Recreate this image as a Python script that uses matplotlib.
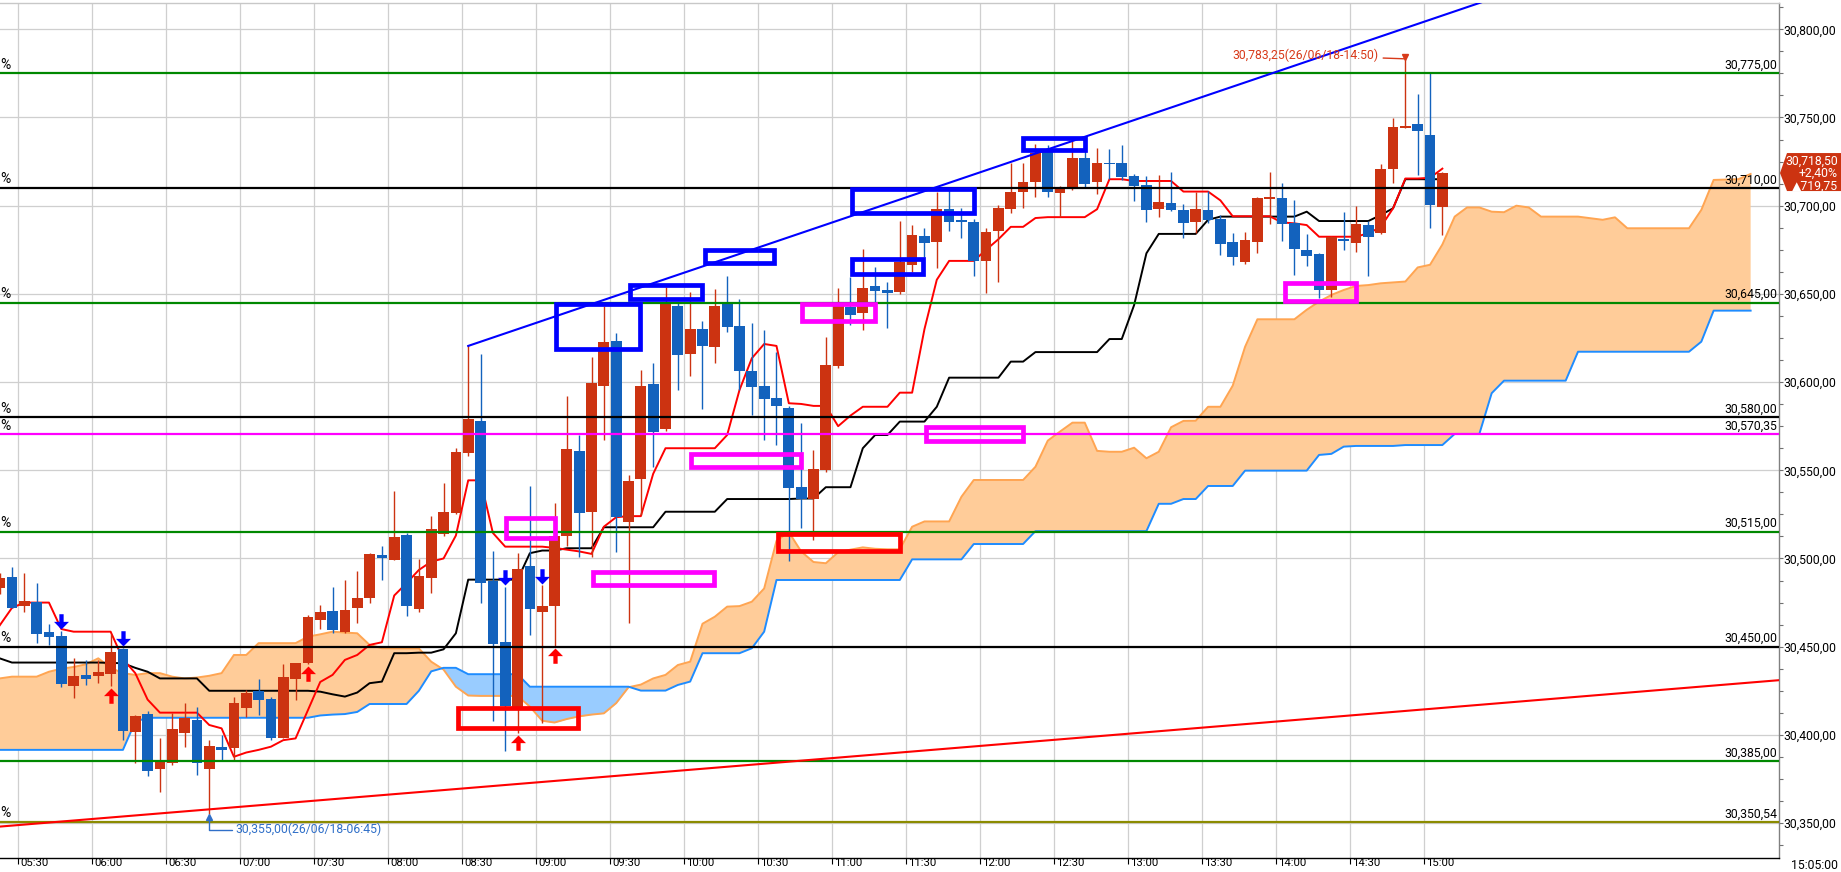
import numpy as np
import matplotlib
matplotlib.use('Agg')
import matplotlib.pyplot as plt
from matplotlib.patches import Rectangle, Polygon
from matplotlib.path import Path
from matplotlib.ticker import FixedLocator, FuncFormatter, MultipleLocator
import matplotlib.transforms as mtransforms

FONT = ['Roboto', 'DejaVu Sans']
plt.rcParams['font.family'] = FONT

# ---------------- data (5-minute candles, index 0 = 05:30) ----------------
first_idx = -2
opens = [30483, 30489.7, 30473.2, 30475.3, 30458.5, 30456.1, 30427.7, 30434, 30433.4, 30434.5,
         30448.7, 30401.8, 30411.8, 30380.7, 30383.9, 30401.2, 30408.4, 30380.7, 30393, 30392.7,
         30415.4, 30424.9, 30420.4, 30398.4, 30431.7, 30440.9, 30465.2, 30470.2, 30458.5, 30472.1,
         30477.8, 30502, 30499.1, 30513.3, 30471.4, 30489.1, 30513.7, 30526, 30560, 30578,
         30487.4, 30452.7, 30414.1, 30495.7, 30469.8, 30473.2, 30512.8, 30560.9, 30526.5, 30598,
         30623.3, 30520.9, 30545.1, 30598.9, 30573.4, 30643.1, 30615.9, 30630.1, 30620.1, 30644.3,
         30631.8, 30606.3, 30597.8, 30591.2, 30585.5, 30540.7, 30533.7, 30550.1, 30609.1, 30642.7,
         30639.3, 30654.5, 30652.2, 30651.2, 30666.4, 30682.8, 30679.6, 30698.1, 30691.5, 30690.9,
         30668.7, 30685.8, 30698.1, 30707.8, 30713.6, 30730.6, 30707.4, 30709.6, 30727.2, 30713.6,
         30724.4, 30724.4, 30716.8, 30711.7, 30698.1, 30701.7, 30697.6, 30690.9, 30697.6, 30692.5,
         30679.4, 30667.9, 30679.2, 30703.6, 30704.5, 30690, 30674.9, 30672.6, 30652.2, 30681,
         30679, 30689.1, 30684.7, 30720.6, 30744.2, 30746.3, 30740.1, 30699.4]
highs = [30492, 30495.3, 30491.6, 30486.3, 30463, 30459.1, 30443.4, 30442.5, 30442.5, 30457.2,
         30449.5, 30411, 30413.7, 30398.1, 30412.2, 30417.9, 30416, 30397.1, 30399.9, 30421.7,
         30425.5, 30431.7, 30421.7, 30440.2, 30441, 30468, 30473.6, 30484, 30487.8, 30492.9,
         30503, 30507.1, 30538.3, 30514.5, 30499.7, 30524.1, 30542.6, 30562.8, 30621, 30615.9,
         30504.2, 30484, 30503, 30541.3, 30484.8, 30531.3, 30592.1, 30570, 30614.1, 30643.3,
         30627.7, 30547.3, 30606.9, 30611, 30654.1, 30644.7, 30650.9, 30634.8, 30652.8, 30660,
         30646.9, 30633.3, 30629.5, 30617.2, 30586.4, 30576.6, 30561.5, 30625.7, 30653.2, 30659.8,
         30675.5, 30665.4, 30656.9, 30691.5, 30689.1, 30687.2, 30707.9, 30708.9, 30698.5, 30692.3,
         30687.2, 30700.4, 30724, 30724, 30735, 30734.4, 30711, 30738.2, 30734.4, 30732.5,
         30732, 30734.4, 30718, 30716.8, 30717.4, 30719.3, 30701, 30707.9, 30708.5, 30694.7,
         30684.4, 30685.3, 30705, 30719.3, 30712.7, 30703.2, 30684, 30673, 30683, 30696.6,
         30700, 30691.5, 30723.6, 30749.5, 30783.25, 30763.3, 30775.1, 30719]
lows = [30480, 30472, 30469.8, 30451.9, 30451, 30427.3, 30421.1, 30428.3, 30429.6, 30427.7,
        30397.1, 30383.9, 30376.7, 30367.8, 30383, 30393.3, 30377, 30355, 30385.8, 30385.2,
        30410, 30411.3, 30397.1, 30398, 30419.8, 30440, 30460, 30457.5, 30458, 30463.3,
        30474.6, 30487.8, 30499, 30467.6, 30469.5, 30480.6, 30513, 30525, 30558.1, 30474.9,
        30408, 30391, 30400.9, 30456.5, 30406.6, 30450.4, 30507.1, 30501, 30501, 30567.2,
        30503.9, 30463.6, 30524.7, 30552, 30572, 30595.5, 30603.5, 30584.7, 30611, 30628.6,
        30595.5, 30581.3, 30567.2, 30564.3, 30498.6, 30517.1, 30510.5, 30549, 30608, 30632.4,
        30629.5, 30645.6, 30630.5, 30650, 30662.6, 30671.1, 30664.5, 30685.8, 30681.5, 30660.1,
        30650.7, 30656.9, 30696, 30698.5, 30704.8, 30705.1, 30693.4, 30709, 30710.8, 30706.6,
        30715, 30714.6, 30702.8, 30690.9, 30693.8, 30697, 30681.5, 30684.4, 30690.4, 30672.1,
        30666.4, 30667, 30673.4, 30689.6, 30680.2, 30660.7, 30665.8, 30647.5, 30648.4, 30674.9,
        30673.9, 30660.1, 30684, 30712.7, 30744, 30717.4, 30687.2, 30683.4]
closes = [30489, 30472.1, 30476, 30457.2, 30455.7, 30428.9, 30433.4, 30431.5, 30435.8, 30447.2,
          30402.4, 30410.9, 30379.7, 30384.5, 30403.3, 30409.7, 30383.9, 30393.7, 30391.4, 30417.9,
          30423.9, 30419.8, 30398.4, 30433, 30440.9, 30467, 30469.7, 30459.5, 30470.8, 30477.6,
          30502.5, 30500.1, 30512, 30473.2, 30490.1, 30516.7, 30526.2, 30560.4, 30579.1, 30486.3,
          30451.5, 30416.6, 30494, 30471.5, 30473.1, 30512.8, 30562.1, 30526, 30599.3, 30622.7,
          30523.7, 30544, 30597.8, 30571.9, 30645.6, 30615.4, 30630.1, 30620.6, 30643.1, 30631.4,
          30606.5, 30597.4, 30590.2, 30586.4, 30540.1, 30533.7, 30550.7, 30609.7, 30643.1, 30638,
          30653.5, 30651.8, 30650.7, 30668.3, 30683.4, 30679, 30698.1, 30690.9, 30690.8, 30668.7,
          30685.3, 30698.5, 30707.8, 30713.3, 30730, 30707.9, 30710.8, 30727.2, 30712.3, 30724,
          30723.6, 30716.1, 30711.2, 30697.6, 30702.3, 30697.6, 30690.4, 30698.1, 30691.9, 30678.3,
          30671.1, 30680.6, 30704.5, 30705.1, 30689.6, 30675.5, 30671.7, 30652.2, 30682.1, 30680.2,
          30689.6, 30682.4, 30720.8, 30744.4, 30744.6, 30742.5, 30700.4, 30718.5]

tenkan = [30462, 30472, 30475, 30475, 30475, 30460, 30458.5, 30458.5, 30458.5, 30458.5,
          30443, 30435, 30420, 30412.6, 30412.6, 30412.6, 30412.6, 30405.6, 30403.7, 30387.6,
          30390, 30391.5, 30393.3, 30397, 30398, 30414, 30430, 30434, 30442.5, 30445.3,
          30451, 30452.5, 30479, 30486, 30493.5, 30498.2, 30500, 30513, 30544.3, 30544.3,
          30514.5, 30506.7, 30506.7, 30506.7, 30506.7, 30506, 30505, 30504, 30502.6, 30518,
          30523.4, 30524, 30524, 30548, 30562.5, 30562.5, 30562.5, 30562.5, 30562.5, 30570,
          30595.5, 30613.5, 30621.6, 30620.5, 30588, 30587.6, 30586.5, 30586.5, 30575, 30581,
          30586, 30586, 30586, 30594, 30594, 30630, 30658, 30668.7, 30668.7, 30668.7,
          30675, 30681, 30688, 30688, 30693, 30693.5, 30693.5, 30693.5, 30693.5, 30698,
          30715, 30715, 30714, 30714, 30714, 30714, 30708, 30708, 30708, 30703,
          30694, 30694, 30694, 30694, 30690.5, 30690, 30689, 30682.4, 30682.4, 30682.4,
          30682.4, 30684.4, 30687.8, 30698.5, 30715.4, 30715.4, 30715.8, 30721]
kijun = [30443.4, 30441, 30441, 30441, 30441, 30441, 30441, 30441, 30441, 30440.8,
         30440.6, 30438, 30435.8, 30432, 30432, 30432, 30432, 30425, 30425, 30425,
         30425, 30425, 30425, 30425, 30425, 30425, 30424.5, 30423, 30421.7, 30424,
         30429.3, 30430.2, 30446.3, 30446.3, 30446.6, 30446.6, 30448.5, 30457.6, 30488, 30488,
         30488, 30488, 30488, 30503, 30504.5, 30504.5, 30505.8, 30505.8, 30505.8, 30517.7,
         30517.7, 30517.7, 30517.7, 30517.7, 30526.5, 30526.5, 30526.5, 30526.5, 30526.5, 30533.7,
         30533.7, 30533.7, 30533.7, 30533.7, 30533.7, 30534, 30534, 30540.4, 30540.4, 30540.4,
         30562.5, 30570, 30570, 30577.6, 30577.6, 30577.6, 30586, 30602.5, 30602.5, 30602.5,
         30602.5, 30602.5, 30611.6, 30611.6, 30617, 30617, 30617, 30617, 30617, 30617,
         30624.4, 30624.4, 30643.6, 30673, 30684, 30684, 30684, 30684, 30692, 30693.8,
         30693.8, 30693.8, 30693.8, 30693.8, 30693.8, 30693.8, 30696.6, 30691.3, 30691.3, 30691.3,
         30691.3, 30691.3, 30694.7, 30698.5, 30715, 30715, 30715, 30715]
# leading spans (index -2 .. 140)
span_a = [30432, 30433, 30433, 30433, 30435.8, 30437.5, 30438.5, 30440, 30443.4, 30438,
          30435, 30434, 30435, 30435, 30433, 30432, 30432.5, 30433.5, 30435, 30445.3,
          30445.3, 30452, 30452, 30452, 30452, 30455.7, 30457, 30458.5, 30458, 30457.6,
          30451, 30449.1, 30449, 30449, 30449, 30441.5, 30437, 30427.3, 30422.3, 30422.1,
          30422.1, 30422.1, 30422.1, 30416, 30408, 30407, 30409, 30410.5, 30411.5, 30412.2,
          30418, 30427, 30428.5, 30432, 30434, 30439.6, 30441.5, 30463, 30467, 30472.7,
          30473, 30475.5, 30483, 30510, 30515, 30504, 30498, 30497.3, 30503.5, 30505,
          30506.3, 30505.5, 30505.2, 30505.2, 30518, 30521, 30521, 30521, 30535, 30544.5,
          30544.5, 30544.5, 30544.5, 30544.5, 30552, 30566.8, 30572, 30577, 30577, 30561,
          30560.5, 30560.5, 30562.8, 30556.8, 30560.5, 30574.4, 30578, 30578.1, 30586, 30586,
          30598, 30620, 30635.6, 30635.6, 30635.6, 30635.6, 30641, 30645.6, 30649.4, 30652.2,
          30654.5, 30655, 30656, 30656.5, 30657, 30665, 30666.5, 30678, 30693.8, 30699,
          30699, 30696.6, 30696.3, 30700, 30699, 30693.8, 30693.8, 30693.8, 30693.8, 30692.9,
          30692, 30693.4, 30687.2, 30687.2, 30687.2, 30687.2, 30687.2, 30687.2, 30697.6, 30714.6,
          30714.8, 30715, 30718]
span_b = [30391.5, 30391.5, 30391.5, 30391.5, 30391.5, 30391.5, 30391.5, 30391.5, 30391.5, 30391.5,
          30391.5, 30407.5, 30409.7, 30409.7, 30409.7, 30409.7, 30409.7, 30409.7, 30409.7, 30409.7,
          30409.7, 30409.7, 30409.7, 30409.7, 30409.7, 30409.7, 30411, 30411.5, 30411.8, 30413,
          30417.5, 30417.5, 30417.5, 30417.5, 30425, 30436, 30438, 30438, 30434.4, 30434.4,
          30434.4, 30434.4, 30434.4, 30427.3, 30427.3, 30427.3, 30427.3, 30427.3, 30427.3, 30427.3,
          30427.3, 30427.3, 30425.1, 30425.1, 30425.1, 30428.3, 30430.2, 30446.3, 30446.3, 30446.3,
          30446.3, 30449.1, 30458.5, 30487.8, 30487.8, 30487.8, 30487.8, 30487.8, 30487.8, 30487.8,
          30487.8, 30487.8, 30487.8, 30487.8, 30499.5, 30499.5, 30499.5, 30499.5, 30499.5, 30508.2,
          30508.2, 30508.2, 30508.2, 30508.2, 30515.5, 30515.5, 30515.5, 30515.5, 30515.5, 30515.5,
          30515.5, 30515.5, 30515.5, 30515.5, 30531, 30531, 30533.7, 30533.7, 30541.1, 30541.1,
          30541.1, 30549.8, 30549.8, 30549.8, 30549.8, 30549.8, 30549.8, 30558.7, 30559.3, 30563.4,
          30563.8, 30563.8, 30563.8, 30563.8, 30564.3, 30564.3, 30564.3, 30564.3, 30570.6, 30570.6,
          30570.6, 30593.7, 30600.8, 30600.8, 30600.8, 30600.8, 30600.8, 30600.8, 30617.2, 30617.2,
          30617.2, 30617.2, 30617.2, 30617.2, 30617.2, 30617.2, 30617.2, 30617.2, 30622.9, 30640.5,
          30640.5, 30640.5, 30640.5]

time_labels = ['05:30', '06:00', '06:30', '07:00', '07:30', '08:00', '08:30', '09:00', '09:30', '10:00',
               '10:30', '11:00', '11:30', '12:00', '12:30', '13:00', '13:30', '14:00', '14:30', '15:00']

level_values = [30775.00, 30710.00, 30645.00, 30580.00, 30570.35, 30515.00, 30450.00, 30385.00, 30350.54]
level_colors = ['#008800', '#000000', '#008800', '#000000', '#FF00FF', '#008800', '#000000', '#008800', '#8B8B00']
level_pct_mark = [True, True, True, True, True, True, True, False, True]

trend_blue_idx = [36, 101.8]
trend_blue_val = [30620.5, 30776.5]
trend_red_idx = [-2, 142.3]
trend_red_val = [30348.0, 30431.0]

# annotation boxes: left idx, right idx, low price, high price
box_left = [43.1, 49.1, 55.2, 67.1, 67.1, 81.0, 39.1, 46.1, 54.1, 63.1, 73.1, 102.2, 35.2, 61.1]
box_right = [49.9, 55.0, 60.8, 72.9, 77.0, 86.0, 43.0, 55.9, 63.0, 69.0, 81.0, 108.0, 44.9, 71.0]
box_low = [30618.5, 30647, 30667.5, 30661, 30696, 30731.5, 30511.5, 30485, 30552, 30634.5, 30566.5, 30646, 30404, 30504]
box_high = [30644.5, 30655, 30675, 30669.5, 30709.5, 30738.5, 30523, 30492.5, 30559.5, 30644.5, 30574.5, 30656, 30415, 30514]
box_color = ['#0000FF'] * 6 + ['#FF00FF'] * 6 + ['#FF0000'] * 2

signal_down_idx = [3, 8, 39, 42]
signal_up_idx = [7, 23, 40, 43]

high_idx, high_val, high_text = 112, 30783.25, '30,783,25(26/06/18-14:50)'
low_idx, low_val, low_text = 15, 30355.00, '30,355,00(26/06/18-06:45)'
last_price, change_pct, change_abs = 30718.50, 2.40, 719.75
clock_text = '15:05:00'

# ---------------- drawing ----------------
W, H = 1841, 872
FS = 8.8
fig = plt.figure(figsize=(W / 100, H / 100), dpi=100)
fig.patch.set_facecolor('white')
ax = fig.add_axes([0, 14 / H, 1779 / W, 855 / H])
ax.set_xlim(-1.97, 142.3)
ax.set_ylim(30330.2, 30814.9)
ax.set_facecolor('white')

idx = np.arange(first_idx, first_idx + len(opens))
cidx = np.arange(first_idx, first_idx + len(span_a))
o = np.array(opens); h = np.array(highs); l = np.array(lows); c = np.array(closes)
sa = np.array(span_a); sb = np.array(span_b)

def fmt(v):
    return f"{v:,.2f}".replace('.', ',')

# grid
tick_pos = [-0.5 + 6 * k for k in range(len(time_labels))]
for tp in tick_pos:
    ax.axvline(tp, color='#CFCFCF', lw=0.9, zorder=0)
for yv in np.arange(30350, 30801, 50):
    ax.axhline(yv, color='#CFCFCF', lw=0.9, zorder=0)

# cloud
ax.fill_between(cidx, sa, sb, where=sa >= sb, interpolate=True, color='#FFCC99', lw=0, zorder=1)
ax.fill_between(cidx, sa, sb, where=sa < sb, interpolate=True, color='#99CCFF', lw=0, zorder=1)
ax.plot(cidx, sa, color='#FFA552', lw=1.4, zorder=2)
ax.plot(cidx, sb, color='#1E8CFF', lw=1.4, zorder=2)

# tenkan / kijun
ax.plot(idx, kijun, color='#000000', lw=1.4, zorder=3)
ax.plot(idx, tenkan, color='#FF0000', lw=1.4, zorder=3)

# candles
up = c >= o
cols = np.where(up, '#CC3311', '#1362BD')
ax.vlines(idx, l, h, colors=cols, lw=1.0, zorder=5)
body_h = np.maximum(np.abs(c - o), 0.8)
ax.bar(idx, body_h, bottom=np.minimum(o, c), width=0.87, color=cols, lw=0, zorder=6)

# horizontal levels
blend = mtransforms.blended_transform_factory(ax.transAxes, ax.transData)
for v, col, pm in zip(level_values, level_colors, level_pct_mark):
    ax.axhline(v, color=col, lw=1.6, zorder=7)
    ax.text(0.9991, v + 1.0, fmt(v), transform=blend, ha='right', va='bottom',
            fontsize=FS, color='black', zorder=11)
    if pm:
        ax.text(0.0, v + 1.0, '%', transform=blend, ha='left', va='bottom',
                fontsize=10, color='black', zorder=11)

# trend lines (extended to the plot edges)
xl = np.array(ax.get_xlim())
bs = (trend_blue_val[1] - trend_blue_val[0]) / (trend_blue_idx[1] - trend_blue_idx[0])
bx = np.array([trend_blue_idx[0], xl[1]])
ax.plot(bx, trend_blue_val[0] + bs * (bx - trend_blue_idx[0]), color='#0000FF', lw=1.5, zorder=7)
rs = (trend_red_val[1] - trend_red_val[0]) / (trend_red_idx[1] - trend_red_idx[0])
ax.plot(xl, trend_red_val[0] + rs * (xl - trend_red_idx[0]), color='#FF0000', lw=1.5, zorder=7)

# boxes
for x0, x1, y0, y1, col in zip(box_left, box_right, box_low, box_high, box_color):
    ax.add_patch(Rectangle((x0, y0), x1 - x0, y1 - y0, fill=False, edgecolor=col,
                           lw=3.4, joinstyle='miter', zorder=8))

# signal arrows (marker tip at the origin)
down_path = Path([(0, 0), (0.49, 0.5), (0.14, 0.5), (0.14, 1), (-0.14, 1), (-0.14, 0.5), (-0.49, 0.5), (0, 0)],
                 [Path.MOVETO] + [Path.LINETO] * 6 + [Path.CLOSEPOLY])
up_path = Path([(0, 0), (0.49, -0.5), (0.14, -0.5), (0.14, -1), (-0.14, -1), (-0.14, -0.5), (-0.49, -0.5), (0, 0)],
               [Path.MOVETO] + [Path.LINETO] * 6 + [Path.CLOSEPOLY])
hd = {i: v for i, v in zip(idx, h)}
ld = {i: v for i, v in zip(idx, l)}
ax.plot(signal_down_idx, [hd[i] + 1.0 for i in signal_down_idx], linestyle='none',
        marker=down_path, markersize=22, color='#0000FF', markeredgewidth=0, zorder=9)
ax.plot(signal_up_idx, [ld[i] - 1.0 for i in signal_up_idx], linestyle='none',
        marker=up_path, markersize=22, color='#FF0000', markeredgewidth=0, zorder=9)

# high / low annotations
ax.annotate(high_text, xy=(high_idx, high_val), xytext=(-19, 2.5), textcoords='offset points',
            ha='right', va='center', fontsize=FS, color='#D83A1A', zorder=10,
            arrowprops=dict(arrowstyle='-', color='#D83A1A', lw=1.0, shrinkA=1, shrinkB=0))
ax.plot([high_idx], [high_val + 0.8], marker='v', markersize=5, color='#D83A1A', zorder=10)
ax.annotate(low_text, xy=(low_idx, low_val - 2.0), xytext=(18.5, -8.5), textcoords='offset points',
            ha='left', va='center', fontsize=FS, color='#2F6FC8', zorder=10,
            arrowprops=dict(arrowstyle='-', color='#2F6FC8', lw=1.0, shrinkA=0, shrinkB=0,
                            connectionstyle='angle,angleA=0,angleB=90,rad=0'))
ax.plot([low_idx], [low_val - 1.5], marker='^', markersize=4.5, color='#2F6FC8', zorder=10)

# axes styling
ax.yaxis.tick_right()
ax.yaxis.set_major_locator(FixedLocator(np.arange(30350, 30801, 50)))
ax.yaxis.set_minor_locator(MultipleLocator(12.5))
ax.yaxis.set_major_formatter(FuncFormatter(lambda v, p: fmt(v)))
ax.tick_params(axis='y', which='major', direction='out', length=3, width=0.8, color='#707070',
               labelsize=FS, pad=0.5)
ax.tick_params(axis='y', which='minor', direction='out', length=3, width=0.8, color='#707070')
ax.set_xticks(tick_pos)
ax.set_xticklabels(time_labels)
ax.tick_params(axis='x', direction='out', length=4, width=0.8, color='#000000', labelsize=8.2, pad=-4.2)
shift = mtransforms.ScaledTranslation(2 / 100, 0, fig.dpi_scale_trans)
for lab in ax.get_xticklabels():
    lab.set_horizontalalignment('left')
    lab.set_transform(lab.get_transform() + shift)
ax.spines['left'].set_visible(False)
ax.spines['right'].set_color('#808080')
ax.spines['top'].set_color('#C8C8C8')
ax.spines['bottom'].set_color('#000000')
for s in ['right', 'top', 'bottom']:
    ax.spines[s].set_linewidth(1.0)

# last-price box on the right axis
fig.canvas.draw()
yp = ax.transData.transform((0, last_price))[1]
box_top, box_bot = yp + 20, yp - 18
x_ax = 1779
poly = Polygon([(x_ax + 1, yp), (x_ax + 8, box_top), (W, box_top), (W, box_bot), (x_ax + 8, box_bot)],
               closed=True, transform=None, facecolor='#CC3311', edgecolor='none', zorder=20)
fig.patches.append(poly)
lines_txt = [fmt(last_price), f"+{change_pct:.2f}%".replace('.', ','), '\u25B2' + fmt(change_abs)]
for k, t in enumerate(lines_txt):
    fig.text((W - 3) / W, (yp + 12 - 12.5 * k) / H, t, ha='right', va='center', color='white',
             fontsize=FS, family=FONT, zorder=21)

fig.text((W - 3) / W, 7 / H, clock_text, ha='right', va='center', fontsize=FS, color='black')

fig.savefig('out.png', dpi=100, facecolor='white')
